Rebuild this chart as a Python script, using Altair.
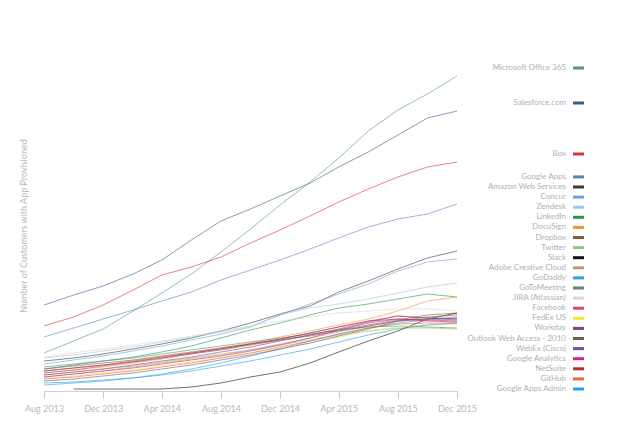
import altair as alt
import pandas as pd

# Bi-monthly observation dates
dates = ["2013-08-01", "2013-10-01", "2013-12-01", "2014-02-01", "2014-04-01",
         "2014-06-01", "2014-08-01", "2014-10-01", "2014-12-01", "2015-02-01",
         "2015-04-01", "2015-06-01", "2015-08-01", "2015-10-01", "2015-12-01"]

apps = ["Microsoft Office 365", "Salesforce.com", "Box", "Google Apps",
        "Amazon Web Services", "Concur", "Zendesk", "LinkedIn", "DocuSign",
        "Dropbox", "Twitter", "Slack", "Adobe Creative Cloud", "GoDaddy",
        "GoToMeeting", "JIRA (Atlassian)", "Facebook", "FedEx US", "Workday",
        "Outlook Web Access - 2010", "WebEx (Cisco)", "Google Analytics",
        "NetSuite", "GitHub", "Google Apps Admin"]

colors = ["#4f9a78", "#3b5b8c", "#e0303a", "#5686c0", "#3a3a3a", "#6fa1d2",
          "#9ccae9", "#1c9a4b", "#f0962c", "#8a5a3c", "#8cc87c", "#111111",
          "#c29b6c", "#2ba2da", "#5b8a6c", "#d6d6d6", "#e0427c", "#f3e52c",
          "#8b3b8b", "#6a6152", "#7a4b9b", "#e01b8b", "#b0303c", "#e8693c",
          "#1ba2e2"]

values = {
    "Microsoft Office 365": [38, 50, 62, 80, 98, 117, 139, 162, 186, 209, 233, 260, 281, 297, 315],
    "Salesforce.com":       [86, 96, 105, 117, 131, 151, 170, 182, 195, 208, 224, 239, 256, 273, 280],
    "Box":                  [65, 74, 86, 101, 116, 124, 134, 148, 161, 175, 189, 202, 214, 224, 229],
    "Google Apps":          [54, 63, 72, 81, 90, 99, 111, 121, 131, 142, 153, 164, 172, 177, 187],
    "Amazon Web Services":  [30, 33, 37, 42, 47, 53, 60, 68, 77, 85, 99, 110, 122, 133, 140],
    "Concur":               [27, 31, 35, 40, 45, 51, 57, 64, 76, 87, 97, 107, 120, 129, 132],
    "Zendesk":              [33, 36, 40, 44, 49, 54, 59, 65, 76, 83, 87, 92, 98, 104, 108],
    "LinkedIn":             [22, 26, 30, 34, 39, 45, 53, 61, 68, 76, 83, 87, 92, 97, 94],
    "DocuSign":             [18, 21, 24, 28, 32, 37, 43, 48, 54, 60, 66, 72, 80, 90, 94],
    "Dropbox":              [20, 23, 26, 29, 33, 37, 41, 46, 51, 56, 61, 66, 71, 76, 78],
    "Twitter":              [16, 19, 22, 25, 29, 33, 37, 41, 46, 51, 56, 60, 63, 63, 62],
    "Slack":                [None, 2, 2, 2, 2, 4, 8, 14, 19, 28, 39, 50, 60, 72, 78],
    "Adobe Creative Cloud": [14, 17, 20, 24, 28, 32, 36, 41, 47, 53, 59, 65, 70, 72, 74],
    "GoDaddy":              [6, 8, 10, 13, 17, 22, 28, 35, 42, 50, 57, 63, 68, 71, 73],
    "GoToMeeting":          [24, 27, 30, 33, 37, 41, 45, 49, 53, 57, 61, 64, 65, 64, 63],
    "JIRA (Atlassian)":     [34, 38, 42, 46, 50, 55, 60, 65, 70, 74, 78, 80, 82, 82, 80],
    "Facebook":             [18, 21, 25, 29, 33, 38, 42, 47, 52, 58, 64, 70, 75, 73, 72],
    "FedEx US":             [12, 15, 18, 21, 25, 29, 33, 38, 43, 48, 54, 60, 64, 66, 67],
    "Workday":              [16, 19, 22, 26, 30, 34, 39, 44, 50, 56, 62, 69, 75, 73, 71],
    "Outlook Web Access - 2010": [22, 25, 28, 31, 35, 39, 43, 47, 51, 55, 60, 65, 70, 74, 76],
    "WebEx (Cisco)":        [10, 12, 15, 18, 22, 26, 31, 36, 42, 48, 55, 62, 70, 72, 73],
    "Google Analytics":     [14, 17, 20, 23, 27, 31, 35, 40, 46, 53, 61, 68, 72, 70, 69],
    "NetSuite":             [20, 23, 26, 30, 34, 38, 42, 47, 52, 58, 64, 70, 72, 71, 70],
    "GitHub":               [12, 14, 17, 20, 24, 28, 33, 38, 44, 50, 57, 63, 67, 68, 68],
    "Google Apps Admin":    [8, 9, 11, 13, 16, 20, 25, 30, 36, 42, 49, 56, 62, 66, 68],
}

tick_dates = ["2013-08-01", "2013-12-01", "2014-04-01", "2014-08-01",
              "2014-12-01", "2015-04-01", "2015-08-01", "2015-12-01"]

# ---- build tables ----
rows = []
for app in apps:
    for d, v in zip(dates, values[app]):
        if v is not None:
            rows.append({"app": app, "date": d, "value": v})
df = pd.DataFrame(rows)

# label placement: two-pass dodge (top-down, then bottom-up from a floor)
gap, offset, floor = 10.1, 8, 2
ends = [[v for v in values[a] if v is not None][-1] + offset for a in apps]
pos = []
for e in ends:
    pos.append(e if not pos else min(e, pos[-1] - gap))
for i in range(len(pos) - 1, -1, -1):
    lo = floor if i == len(pos) - 1 else pos[i + 1] + gap
    pos[i] = max(pos[i], lo)
lab = pd.DataFrame({"app": apps, "value": pos})

W, H = 413, 331
grey = "#b8b8b8"
font = "Lato"

def dt(s):
    y, m, d = map(int, s.split("-"))
    return alt.DateTime(year=y, month=m, date=d, utc=True)

xscale = alt.Scale(type="utc", domain=[dt(dates[0]), dt(dates[-1])])
yscale = alt.Scale(domain=[0, H], nice=False, zero=True)
cscale = alt.Scale(domain=apps, range=colors)

lines = alt.Chart(df).mark_line(strokeWidth=1, opacity=0.6).encode(
    x=alt.X("date:T", scale=xscale, title=None,
            axis=alt.Axis(values=[dt(t) for t in tick_dates],
                          labelExpr="utcFormat(datum.value, '%b %Y')",
                          labelFlush=False, labelOverlap=False,
                          grid=False, domainColor="#d0d0d0",
                          tickColor="#c8c8c8", tickSize=7, labelPadding=6,
                          labelColor=grey, labelFontSize=9, labelFont=font)),
    y=alt.Y("value:Q", scale=yscale,
            title="Number of Customers with App Provisioned"),
    color=alt.Color("app:N", scale=cscale, legend=None),
    detail="app:N",
)

texts = alt.Chart(lab).mark_text(align="right", baseline="middle", fontSize=8,
                                 font=font, color="#b0b0b0").encode(
    x=alt.value(W + 109),
    y=alt.Y("value:Q", scale=yscale),
    text="app:N",
)

marks = alt.Chart(lab).mark_rule(strokeWidth=3).encode(
    x=alt.value(W + 116),
    x2=alt.value(W + 127),
    y=alt.Y("value:Q", scale=yscale),
    color=alt.Color("app:N", scale=cscale, legend=None),
)

chart = alt.layer(lines, texts, marks).properties(
    width=W, height=H,
    autosize=alt.AutoSizeParams(type="none"),
    padding={"left": 36, "top": 52, "right": 155, "bottom": 44},
).configure(background="white").configure_view(stroke=None).configure_axisY(
    labels=False, ticks=False, domain=False, grid=False,
    titleColor=grey, titleFontSize=9, titleFont=font,
    titleFontWeight="normal", titlePadding=16,
)

chart.save("out.html", embed_options={"renderer": "svg", "actions": False})
